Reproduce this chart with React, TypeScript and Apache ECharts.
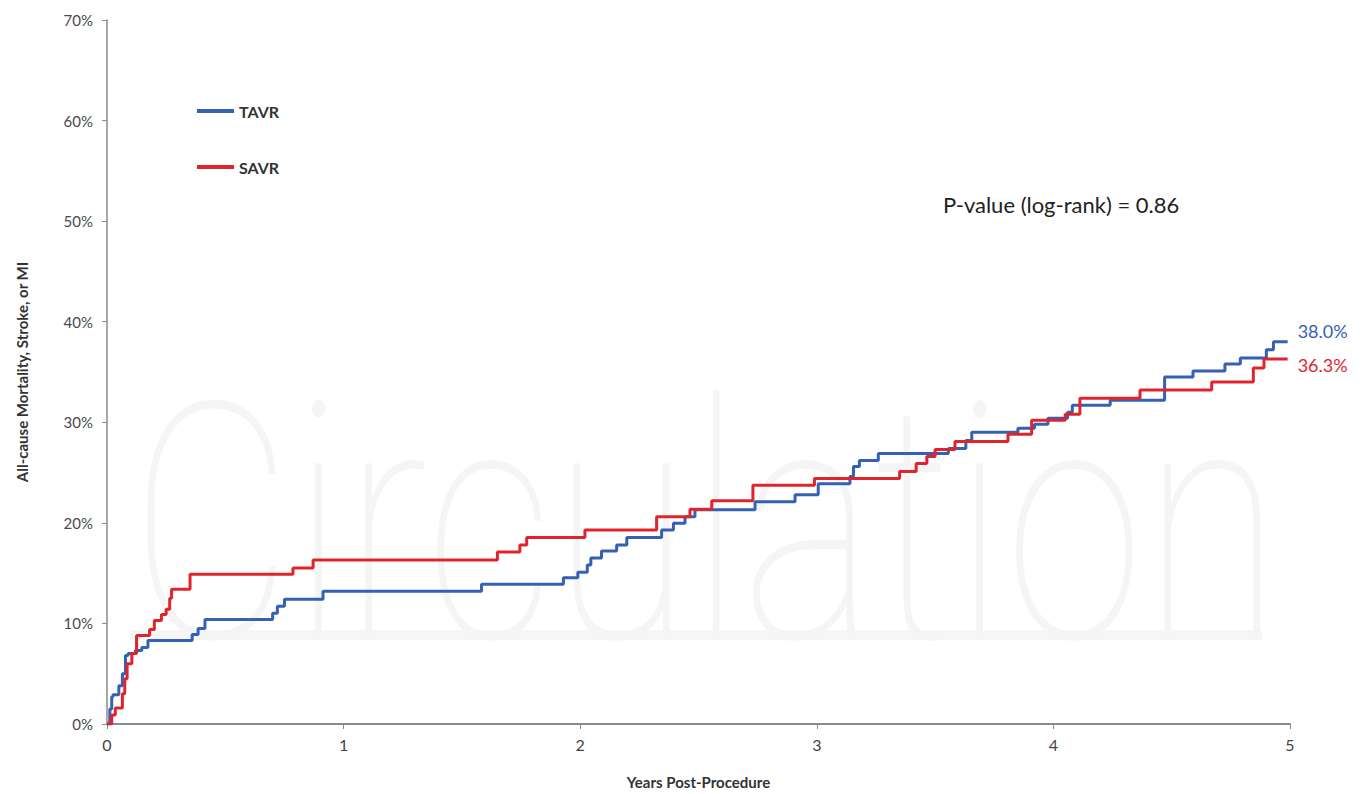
import React, { useEffect, useRef } from 'react';
import * as echarts from 'echarts';

const tavrYears = [0, 0.012, 0.02, 0.025, 0.05, 0.065, 0.078, 0.089, 0.12, 0.147, 0.173, 0.36, 0.385, 0.414, 0.7, 0.72, 0.75, 0.913, 1.583, 1.929, 1.99, 2.03, 2.045, 2.09, 2.154, 2.197, 2.344, 2.394, 2.443, 2.485, 2.739, 2.908, 3.006, 3.14, 3.155, 3.18, 3.26, 3.556, 3.63, 3.655, 3.85, 3.92, 3.977, 4.06, 4.08, 4.24, 4.47, 4.59, 4.725, 4.79, 4.9, 4.93, 4.99];
const tavrRisk = [0, 1.5, 2.7, 2.9, 3.8, 5.0, 6.8, 7.0, 7.3, 7.6, 8.3, 8.9, 9.5, 10.4, 11.0, 11.7, 12.4, 13.2, 13.9, 14.55, 15.1, 15.8, 16.5, 17.2, 17.8, 18.55, 19.3, 19.97, 20.6, 21.3, 22.1, 22.8, 23.9, 24.6, 25.6, 26.2, 26.9, 27.4, 28.2, 29.0, 29.4, 29.8, 30.4, 31.0, 31.7, 32.2, 34.5, 35.1, 35.8, 36.4, 37.2, 38.0, 38.0];

const savrYears = [0, 0.02, 0.035, 0.065, 0.075, 0.085, 0.105, 0.125, 0.18, 0.2, 0.23, 0.25, 0.265, 0.273, 0.351, 0.786, 0.871, 1.65, 1.745, 1.774, 2.02, 2.323, 2.464, 2.556, 2.73, 2.99, 3.35, 3.42, 3.465, 3.5, 3.584, 3.808, 3.908, 4.05, 4.112, 4.366, 4.669, 4.845, 4.89, 4.99];
const savrRisk = [0, 0.9, 1.6, 3.0, 4.5, 6.0, 7.0, 8.8, 9.4, 10.3, 10.9, 11.4, 12.5, 13.4, 14.9, 15.5, 16.3, 17.1, 17.8, 18.55, 19.3, 20.6, 21.35, 22.2, 23.75, 24.4, 25.1, 25.9, 26.6, 27.3, 28.1, 28.8, 30.2, 30.8, 32.4, 33.2, 34.0, 35.4, 36.3, 36.3];

const seriesNames = ['TAVR', 'SAVR'];
const endLabels = ['38.0%', '36.3%'];
const pValueText = 'P-value (log-rank) = 0.86';
const yAxisTitle = 'All-cause Mortality, Stroke, or MI';
const xAxisTitle = 'Years Post-Procedure';
const watermarkText = 'Circulation';

const BLUE = '#3461b3';
const RED = '#e0242c';
const FONT = 'Lato, "Open Sans", sans-serif';

export default function App() {
  const ref = useRef<HTMLDivElement>(null);
  useEffect(() => {
    document.body.style.margin = '0';
    const chart = echarts.init(ref.current!, null, { renderer: 'svg' });
    const tavr = tavrYears.map((t, i) => [t, tavrRisk[i]]);
    const savr = savrYears.map((t, i) => [t, savrRisk[i]]);
    chart.setOption({
      animation: false,
      backgroundColor: '#ffffff',
      textStyle: { fontFamily: FONT },
      grid: { left: 107, right: 75, top: 20, bottom: 65 },
      graphic: [
        {
          type: 'rect',
          z: -11,
          silent: true,
          shape: { x: 130, y: 630, width: 1132, height: 10 },
          style: { fill: '#f6f6f6' },
        },
        {
          type: 'text',
          x: 130,
          y: 360,
          scaleX: 0.76,
          z: -10,
          silent: true,
          style: {
            text: watermarkText,
            fontSize: 330,
            fontFamily: 'Roboto, sans-serif',
            fontWeight: 100,
            fill: '#f5f5f5',
          },
        },
        {
          type: 'text',
          left: 943,
          top: 193,
          style: {
            text: pValueText,
            fontSize: 22,
            fontFamily: FONT,
            fill: '#222222',
          },
        },
      ],
      legend: {
        orient: 'vertical',
        left: 192,
        top: 98,
        itemGap: 40,
        itemWidth: 37,
        itemHeight: 4,
        icon: 'rect',
        data: seriesNames,
        textStyle: { fontSize: 16, fontFamily: FONT, fontWeight: 'bold', color: '#333333' },
      },
      xAxis: {
        type: 'value',
        min: 0,
        max: 5,
        interval: 1,
        name: xAxisTitle,
        nameLocation: 'middle',
        nameGap: 50,
        nameTextStyle: { fontSize: 15, fontWeight: 'bold', color: '#333333', fontFamily: FONT },
        axisLine: { lineStyle: { color: '#8a8a8a', width: 2 } },
        axisTick: { show: true, length: 5, lineStyle: { color: '#8a8a8a' } },
        axisLabel: { fontSize: 16, color: '#444444', margin: 12 },
        splitLine: { show: false },
      },
      yAxis: {
        type: 'value',
        min: 0,
        max: 70,
        interval: 10,
        name: yAxisTitle,
        nameLocation: 'middle',
        nameGap: 78,
        nameTextStyle: { fontSize: 15, fontWeight: 'bold', color: '#333333', fontFamily: FONT },
        axisLine: { show: true, lineStyle: { color: '#8a8a8a', width: 1.5 } },
        axisTick: { show: true, length: 5, lineStyle: { color: '#8a8a8a' } },
        axisLabel: { fontSize: 15, color: '#4a4a4a', margin: 14, formatter: '{value}%' },
        splitLine: { show: false },
      },
      series: [
        {
          name: seriesNames[0],
          type: 'line',
          step: 'end',
          data: tavr,
          showSymbol: false,
          symbol: 'none',
          z: 3,
          lineStyle: { color: BLUE, width: 3 },
          itemStyle: { color: BLUE },
          endLabel: {
            show: true,
            formatter: () => endLabels[0],
            color: BLUE,
            fontSize: 18,
            fontFamily: FONT,
            offset: [2, -11],
          },
        },
        {
          name: seriesNames[1],
          type: 'line',
          step: 'end',
          data: savr,
          showSymbol: false,
          symbol: 'none',
          z: 4,
          lineStyle: { color: RED, width: 3 },
          itemStyle: { color: RED },
          endLabel: {
            show: true,
            formatter: () => endLabels[1],
            color: RED,
            fontSize: 18,
            fontFamily: FONT,
            offset: [2, 6],
          },
        },
      ],
    });
    return () => chart.dispose();
  }, []);
  return <div ref={ref} style={{ width: 1365, height: 794 }} />;
}
